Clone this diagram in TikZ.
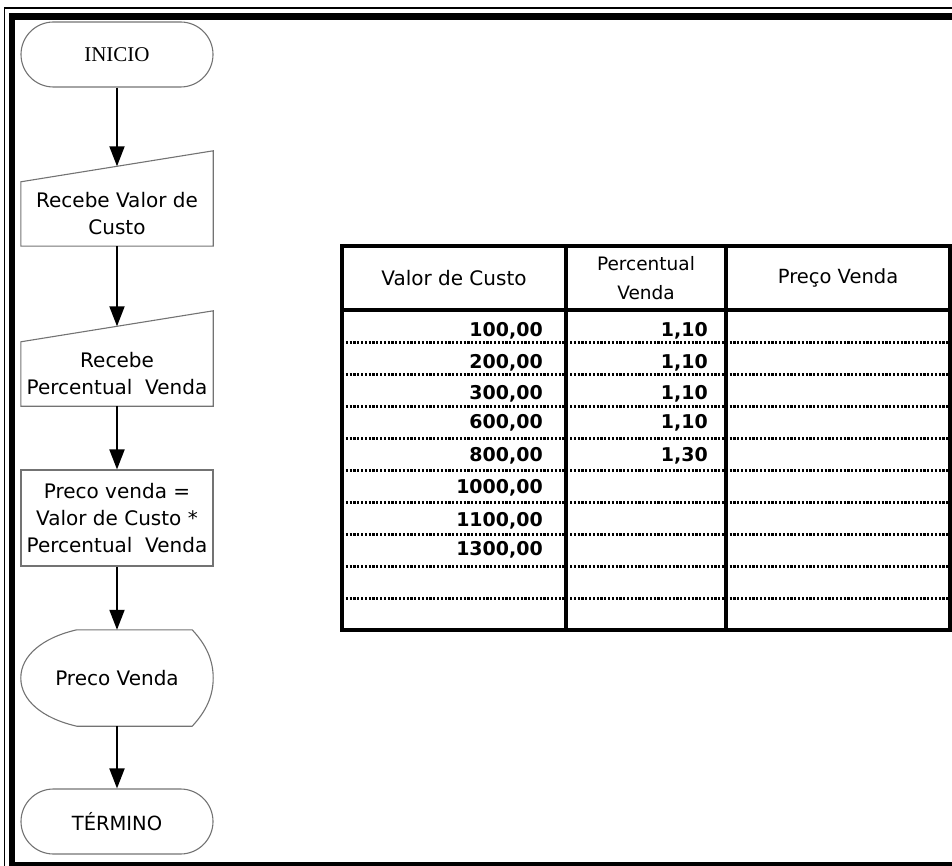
\documentclass[tikz,border=0pt]{standalone}
\usepackage{fontspec}
\setmainfont{DejaVu Sans}
\newfontfamily\titleserif{Liberation Serif}
\usetikzlibrary{arrows.meta,shapes.misc,calc}

\begin{document}
\begin{tikzpicture}[x=1pt,y=-1pt,
  outline/.style={draw=black!55, line width=1.1pt},
  flowtext/.style={font=\fontsize{20}{27}\selectfont, align=center, inner sep=0pt},
  terminal/.style={rounded rectangle, outline, minimum width=192pt, minimum height=65pt, inner sep=0pt},
  block/.style={rectangle, flowtext, minimum width=192pt},
  flow/.style={line width=1.9pt, -{Triangle[length=20pt,width=15pt]}},
  gridline/.style={line width=3.2pt},
  dotrow/.style={line width=3pt, dash pattern=on 2.2pt off 1.6pt},
  head/.style={font=\fontsize{20}{27}\selectfont, align=center, inner sep=0pt},
  num/.style={font=\bfseries\fontsize{19}{23}\selectfont, anchor=base east, inner sep=0pt},
]
\useasboundingbox (0,0) rectangle (952,866);
\clip (0,0) rectangle (952,866);

% page border: thin outer rule, thick inner rule
\draw[line width=1.5pt] (4.5,8) rectangle (965,880);
\draw[line width=6.5pt] (12,16.5) rectangle (958,865.5);

% ---------------- flowchart ----------------
\node[terminal, font=\titleserif\fontsize{21}{21}\selectfont] (inicio) at (117,54.5) {INICIO};

% manual input: body below the slanted top edge
\node[block, minimum height=64pt] (in1) at (117,214) {Recebe Valor de\\Custo};
\draw[outline] (in1.south west) -- (in1.south east) -- ([yshift=31pt]in1.north east)
  -- (in1.north west) -- cycle;
\coordinate (in1-top) at ([yshift=15.5pt]in1.north);

\node[block, minimum height=64pt] (in2) at (117,374) {Recebe\\Percentual\ \ Venda};
\draw[outline] (in2.south west) -- (in2.south east) -- ([yshift=31pt]in2.north east)
  -- (in2.north west) -- cycle;
\coordinate (in2-top) at ([yshift=15.5pt]in2.north);

\node[block, outline, minimum height=96pt] (proc) at (117,518)
  {Preco venda =\\Valor de Custo *\\Percentual\ \ Venda};

% display
\node[block, minimum height=96pt] (disp) at (117,678) {Preco Venda};
\draw[outline] ([xshift=56pt]disp.north west) -- ([xshift=-21pt]disp.north east)
  .. controls +(14,15) and +(0,-18) .. (disp.east)
  .. controls +(0,18) and +(14,-15) .. ([xshift=-21pt]disp.south east)
  -- ([xshift=56pt]disp.south west)
  .. controls +(-35,-8) and +(0,22) .. (disp.west)
  .. controls +(0,-22) and +(-35,8) .. ([xshift=56pt]disp.north west) -- cycle;

\node[terminal, font=\fontsize{19.5}{19.5}\selectfont] (term) at (117,821.5) {TÉRMINO};

\draw[flow] (inicio.south) -- (in1-top);
\draw[flow] (in1.south) -- (in2-top);
\draw[flow] (in2.south) -- (proc.north);
\draw[flow] (proc.south) -- (disp.north);
\draw[flow] (disp.south) -- (term.north);

% ---------------- table ----------------
\foreach \yy in {342,374,406,438,470,502,534,566,598}
  \draw[dotrow] (342,\yy) -- (950,\yy);
\draw[gridline] (342,246) rectangle (950,630);
\draw[gridline] (342,310) -- (950,310);
\draw[gridline] (566,246) -- (566,630);
\draw[gridline] (726,246) -- (726,630);

\node[head] (h1) at (454,278) {Valor de Custo};
\node[head, font=\fontsize{18.5}{29}\selectfont] (h2) at (646,278) {Percentual\\Venda};
\node[head, font=\fontsize{19.5}{27}\selectfont] (h3) at (838,278) {Preço Venda};

\foreach \v/\b [count=\i] in {{100,00}/336, {200,00}/368, {300,00}/399, {600,00}/428,
                              {800,00}/461, {1000,00}/493, {1100,00}/526, {1300,00}/555}
  \node[num] (custo\i) at (543,\b) {\v};
\foreach \v/\b [count=\i] in {{1,10}/336, {1,10}/368, {1,10}/399, {1,10}/428, {1,30}/461}
  \node[num] (perc\i) at (708,\b) {\v};

\end{tikzpicture}
\end{document}
